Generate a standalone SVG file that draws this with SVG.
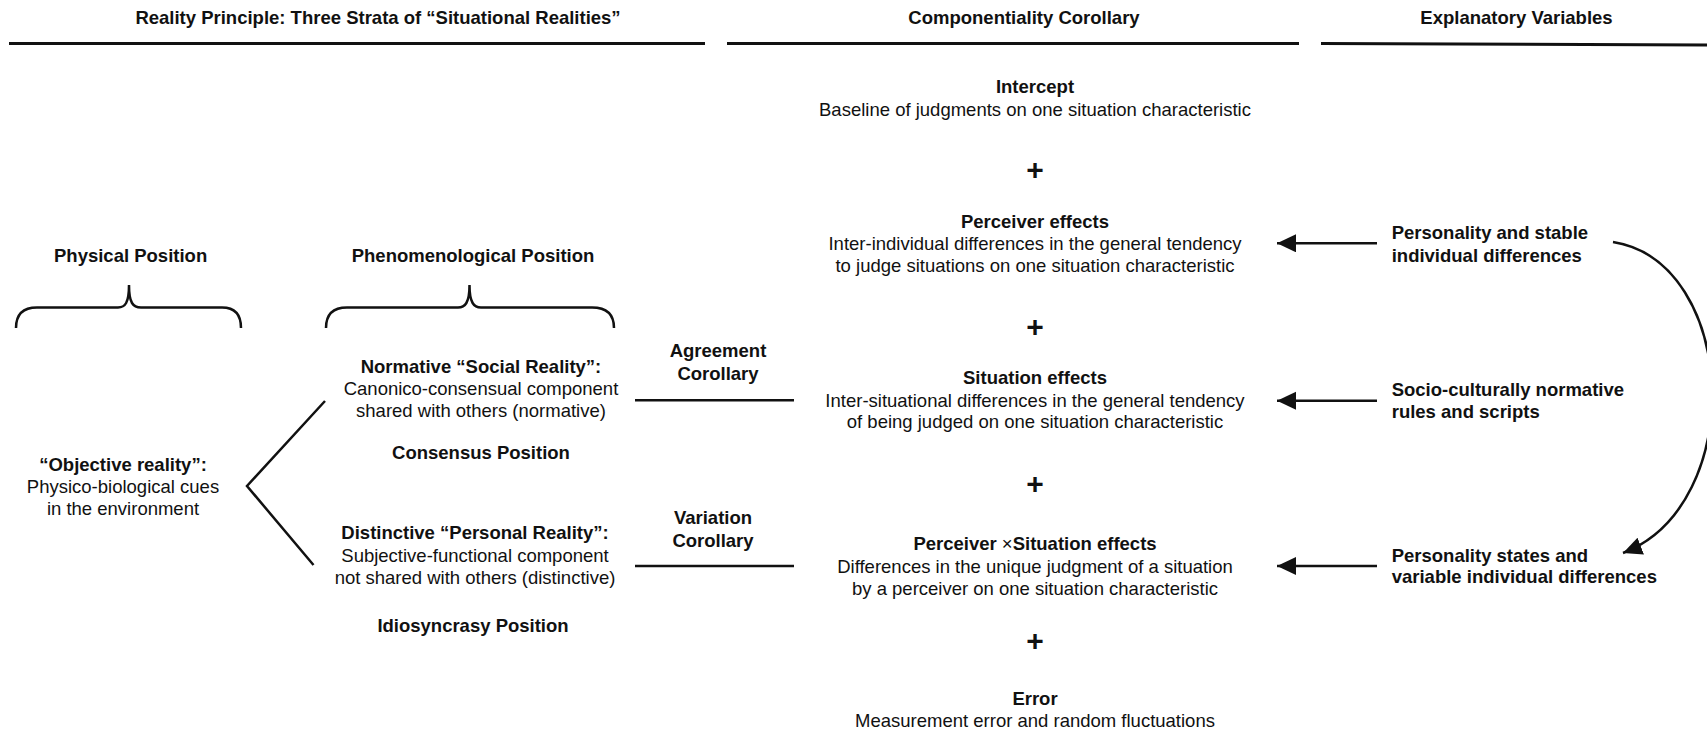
<svg xmlns="http://www.w3.org/2000/svg" width="1707" height="730" viewBox="0 0 1707 730">
<style>
text{font-family:"Liberation Sans",Arial,Helvetica,sans-serif;font-size:18.5px;fill:#111;}
.b{font-weight:bold}
.c{text-anchor:middle}
.plus{font-size:30px;font-weight:bold;text-anchor:middle}
.rule{stroke:#111;stroke-width:3;fill:none}
.ln{stroke:#111;stroke-width:2.5;fill:none}
</style>
<defs>
<marker id="ah" markerUnits="userSpaceOnUse" markerWidth="20" markerHeight="20" refX="19" refY="9" orient="auto"><path d="M0,0 L19,9 L0,18 Z" fill="#111"/></marker>
</defs>
<rect width="1707" height="730" fill="#fff"/>
<g id="headers">
<text class="b c" x="378" y="23.5">Reality Principle: Three Strata of “Situational Realities”</text>
<text class="b c" x="1024" y="23.5">Componentiality Corollary</text>
<text class="b c" x="1516.5" y="23.5">Explanatory Variables</text>
<line class="rule" x1="9" y1="43.5" x2="705" y2="43.5"/>
<line class="rule" x1="727" y1="43.5" x2="1299" y2="43.5"/>
<line class="rule" x1="1321" y1="43.5" x2="1707" y2="45"/>
</g>
<g id="physical-position">
<text class="b c" x="130.6" y="262">Physical Position</text>
<path class="ln" d="M16,328 C16,315 22,307.5 37,307.5 L118,307.5 C125,307.5 129,303 129,285 C129,303 133,307.5 141,307.5 L222,307.5 C235,307.5 241,315 241,328"/>
</g>
<g id="phenomenological-position">
<text class="b c" x="473" y="262">Phenomenological Position</text>
<path class="ln" d="M326,328 C326,315 332,307.5 347,307.5 L458,307.5 C465,307.5 469.5,303 469.5,285 C469.5,303 474,307.5 481,307.5 L592,307.5 C607,307.5 614,315 614,328"/>
</g>
<g id="objective-reality">
<text class="b c" x="123" y="471">“Objective reality”:</text>
<text class="c" x="123" y="493">Physico-biological cues</text>
<text class="c" x="123" y="515">in the environment</text>
</g>
<g id="social-reality">
<text class="b c" x="481" y="373.3">Normative “Social Reality”:</text>
<text class="c" x="481" y="395">Canonico-consensual component</text>
<text class="c" x="481" y="417">shared with others (normative)</text>
<text class="b c" x="481" y="459">Consensus Position</text>
</g>
<g id="personal-reality">
<text class="b c" x="475" y="539">Distinctive “Personal Reality”:</text>
<text class="c" x="475" y="561.7">Subjective-functional component</text>
<text class="c" x="475" y="584">not shared with others (distinctive)</text>
<text class="b c" x="473" y="631.7">Idiosyncrasy Position</text>
</g>
<g id="agreement-corollary">
<text class="b c" x="718" y="356.7">Agreement</text>
<text class="b c" x="718" y="380">Corollary</text>
</g>
<g id="variation-corollary">
<text class="b c" x="713" y="524">Variation</text>
<text class="b c" x="713" y="547">Corollary</text>
</g>
<g id="intercept">
<text class="b c" x="1035" y="93.3">Intercept</text>
<text class="c" x="1035" y="116">Baseline of judgments on one situation characteristic</text>
</g>
<g id="plus-1"><text class="plus" x="1035" y="180">+</text></g>
<g id="perceiver-effects">
<text class="b c" x="1035" y="227.7">Perceiver effects</text>
<text class="c" x="1035" y="250">Inter-individual differences in the general tendency</text>
<text class="c" x="1035" y="272.3">to judge situations on one situation characteristic</text>
</g>
<g id="plus-2"><text class="plus" x="1035" y="337.2">+</text></g>
<g id="situation-effects">
<text class="b c" x="1035" y="384">Situation effects</text>
<text class="c" x="1035" y="406.7">Inter-situational differences in the general tendency</text>
<text class="c" x="1035" y="428.3">of being judged on one situation characteristic</text>
</g>
<g id="plus-3"><text class="plus" x="1035" y="493.8">+</text></g>
<g id="pxs-effects">
<text class="b c" x="1035" y="550">Perceiver <tspan font-weight="normal">×</tspan>Situation effects</text>
<text class="c" x="1035" y="573.3">Differences in the unique judgment of a situation</text>
<text class="c" x="1035" y="595">by a perceiver on one situation characteristic</text>
</g>
<g id="plus-4"><text class="plus" x="1035" y="650.5">+</text></g>
<g id="error">
<text class="b c" x="1035" y="705">Error</text>
<text class="c" x="1035" y="727.3">Measurement error and random fluctuations</text>
</g>
<g id="stable-differences">
<text class="b" x="1391.7" y="239.3">Personality and stable</text>
<text class="b" x="1391.7" y="261.7">individual differences</text>
</g>
<g id="normative-rules">
<text class="b" x="1391.7" y="396">Socio-culturally normative</text>
<text class="b" x="1391.7" y="418.3">rules and scripts</text>
</g>
<g id="personality-states">
<text class="b" x="1391.7" y="561.7">Personality states and</text>
<text class="b" x="1391.7" y="583.3">variable individual differences</text>
</g>
<g id="connectors">
<path class="ln" d="M325,401 L247,486 L313.5,565"/>
<line class="ln" x1="635" y1="400.3" x2="794" y2="400.3"/>
<line class="ln" x1="635" y1="566" x2="794" y2="566"/>
<line class="ln" x1="1377" y1="243.3" x2="1277" y2="243.3" marker-end="url(#ah)"/>
<line class="ln" x1="1377" y1="400.7" x2="1277" y2="400.7" marker-end="url(#ah)"/>
<line class="ln" x1="1377" y1="566" x2="1277" y2="566" marker-end="url(#ah)"/>
<path class="ln" d="M1613,242 C1738,262 1748,505 1623,553" marker-end="url(#ah)"/>
</g>
</svg>
